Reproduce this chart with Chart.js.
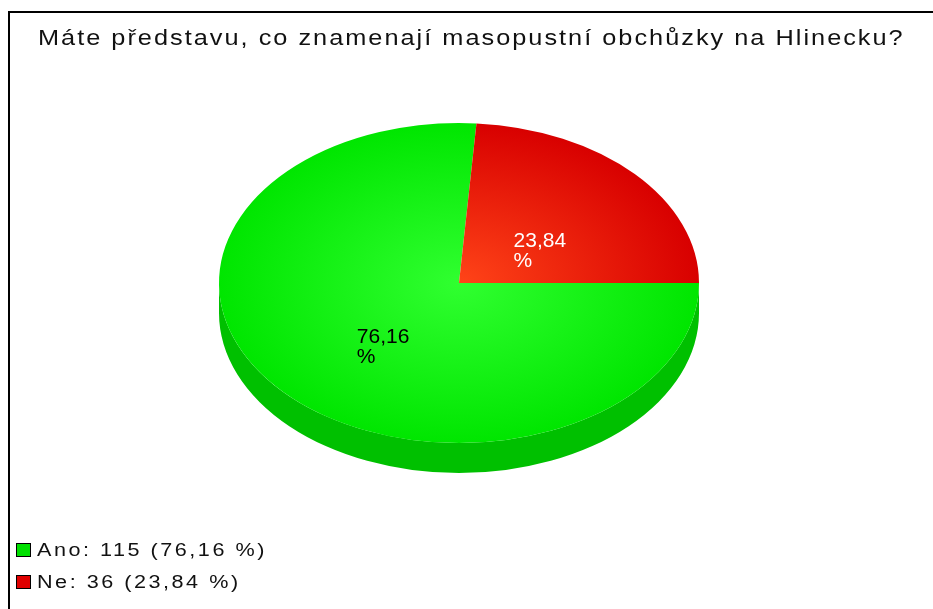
<!DOCTYPE html>
<html>
<head>
<meta charset="utf-8">
<script src="https://cdn.jsdelivr.net/npm/chart.js@4.4.1/dist/chart.umd.min.js"></script>
<style>
  html, body { margin: 0; padding: 0; background: #fff; }
  #wrap { width: 933px; height: 609px; }
</style>
</head>
<body>
<div id="wrap"><canvas id="c" width="933" height="609"></canvas></div>
<script>
// ---- data ----
const titleText = 'Máte představu, co znamenají masopustní obchůzky na Hlinecku?';
const categories = ['Ano', 'Ne'];
const counts = [115, 36];
const percents = ['76,16', '23,84'];

// ---- styles ----
const topColors = [
  { inner: '#30ff30', outer: '#00e600' },
  { inner: '#ff4418', outer: '#d80000' }
];
const sideColors = ['#00c000', '#b00000'];
const legendColors = ['#00e000', '#e00000'];
const labelColors = ['#000000', '#ffffff'];
const labelCenterOffset = [[12, 8], [-7, 20]];   // px, relative to mid-radius point
const SQUASH = 160 / 240;
const DEPTH = 30; // screen px

function sliceFill(ctx) {
  const chart = ctx.chart;
  const i = ctx.dataIndex;
  const ca = chart.chartArea;
  if (!ca) return topColors[i].outer;
  const cx = (ca.left + ca.right) / 2, cy = (ca.top + ca.bottom) / 2;
  const r = Math.min(ca.right - ca.left, ca.bottom - ca.top) / 2;
  const g = chart.ctx.createRadialGradient(cx, cy, 0, cx, cy, r);
  g.addColorStop(0, topColors[i].inner);
  g.addColorStop(1, topColors[i].outer);
  return g;
}

function stretchedText(ctx, text, x, y, scaleX, spacing) {
  ctx.save();
  ctx.translate(x, y);
  ctx.scale(scaleX, 1);
  if ('letterSpacing' in ctx) {
    ctx.letterSpacing = spacing + 'px';
    ctx.fillText(text, 0, 0);
  } else {
    let cx = 0;
    for (const ch of text) {
      ctx.fillText(ch, cx, 0);
      cx += ctx.measureText(ch).width + spacing;
    }
  }
  ctx.restore();
}

const pie3d = {
  id: 'pie3d',
  beforeDatasetsDraw(chart) {
    const ctx = chart.ctx;
    const meta = chart.getDatasetMeta(0);
    const el0 = meta.data[0];
    const cx = el0.x, cy = el0.y;
    ctx.save();
    ctx.translate(cx, cy);
    ctx.scale(1, SQUASH);
    ctx.translate(-cx, -cy);
    const d = DEPTH / SQUASH;
    meta.data.forEach((el, i) => {
      const s = el.startAngle, e = el.endAngle, r = el.outerRadius;
      for (const k of [-2 * Math.PI, 0, 2 * Math.PI]) {
        const a0 = Math.max(s, k), a1 = Math.min(e, k + Math.PI);
        if (a1 <= a0) continue;
        ctx.beginPath();
        ctx.arc(el.x, el.y, r, a0, a1, false);
        ctx.arc(el.x, el.y + d, r, a1, a0, true);
        ctx.closePath();
        ctx.fillStyle = sideColors[i];
        ctx.fill();
      }
    });
  },
  afterDatasetsDraw(chart) {
    const ctx = chart.ctx;
    ctx.restore();
    const meta = chart.getDatasetMeta(0);
    ctx.save();
    ctx.font = '21px "Liberation Sans", Arial, sans-serif';
    ctx.textAlign = 'left';
    ctx.textBaseline = 'alphabetic';
    meta.data.forEach((el, i) => {
      const mid = (el.startAngle + el.endAngle) / 2;
      const r = el.outerRadius * 0.5;
      const px = el.x + r * Math.cos(mid) + labelCenterOffset[i][0];
      const py = el.y + r * Math.sin(mid) * SQUASH + labelCenterOffset[i][1];
      const w = ctx.measureText(percents[i]).width;
      ctx.fillStyle = labelColors[i];
      const left = px - w / 2;
      ctx.fillText(percents[i], left, py - 2);
      ctx.fillText('%', left, py + 18);
    });
    ctx.restore();
  },
  afterDraw(chart) {
    const ctx = chart.ctx;
    ctx.save();
    ctx.strokeStyle = '#000';
    ctx.lineWidth = 2;
    ctx.beginPath();
    ctx.moveTo(9, 609);
    ctx.lineTo(9, 12);
    ctx.lineTo(933, 12);
    ctx.stroke();
    ctx.fillStyle = '#111';
    ctx.font = '22px "Liberation Sans", Arial, sans-serif';
    ctx.textAlign = 'left';
    ctx.textBaseline = 'alphabetic';
    stretchedText(ctx, titleText, 38, 45, 1.15, 1.75);
    ctx.font = '18px "Liberation Sans", Arial, sans-serif';
    categories.forEach((c, i) => {
      const y = 550 + i * 32;
      ctx.fillStyle = legendColors[i];
      ctx.fillRect(16, y - 7, 15, 14);
      ctx.strokeStyle = '#000';
      ctx.lineWidth = 1;
      ctx.strokeRect(16.5, y - 6.5, 14, 13);
      ctx.fillStyle = '#111';
      ctx.textBaseline = 'middle';
      stretchedText(ctx, c + ': ' + counts[i] + ' (' + percents[i] + ' %)', 37, y + 1, 1.2, 2.1);
    });
    ctx.restore();
  }
};

new Chart(document.getElementById('c'), {
  type: 'pie',
  data: {
    labels: categories,
    datasets: [{
      data: counts,
      backgroundColor: sliceFill,
      borderWidth: 0,
      hoverOffset: 0,
      offset: 0
    }]
  },
  options: {
    responsive: false,
    animation: false,
    events: [],
    rotation: 90,
    layout: { padding: { left: 219, right: 234, top: 43, bottom: 86 } },
    plugins: {
      legend: { display: false },
      title: { display: false },
      tooltip: { enabled: false }
    }
  },
  plugins: [pie3d]
});
</script>
</body>
</html>
